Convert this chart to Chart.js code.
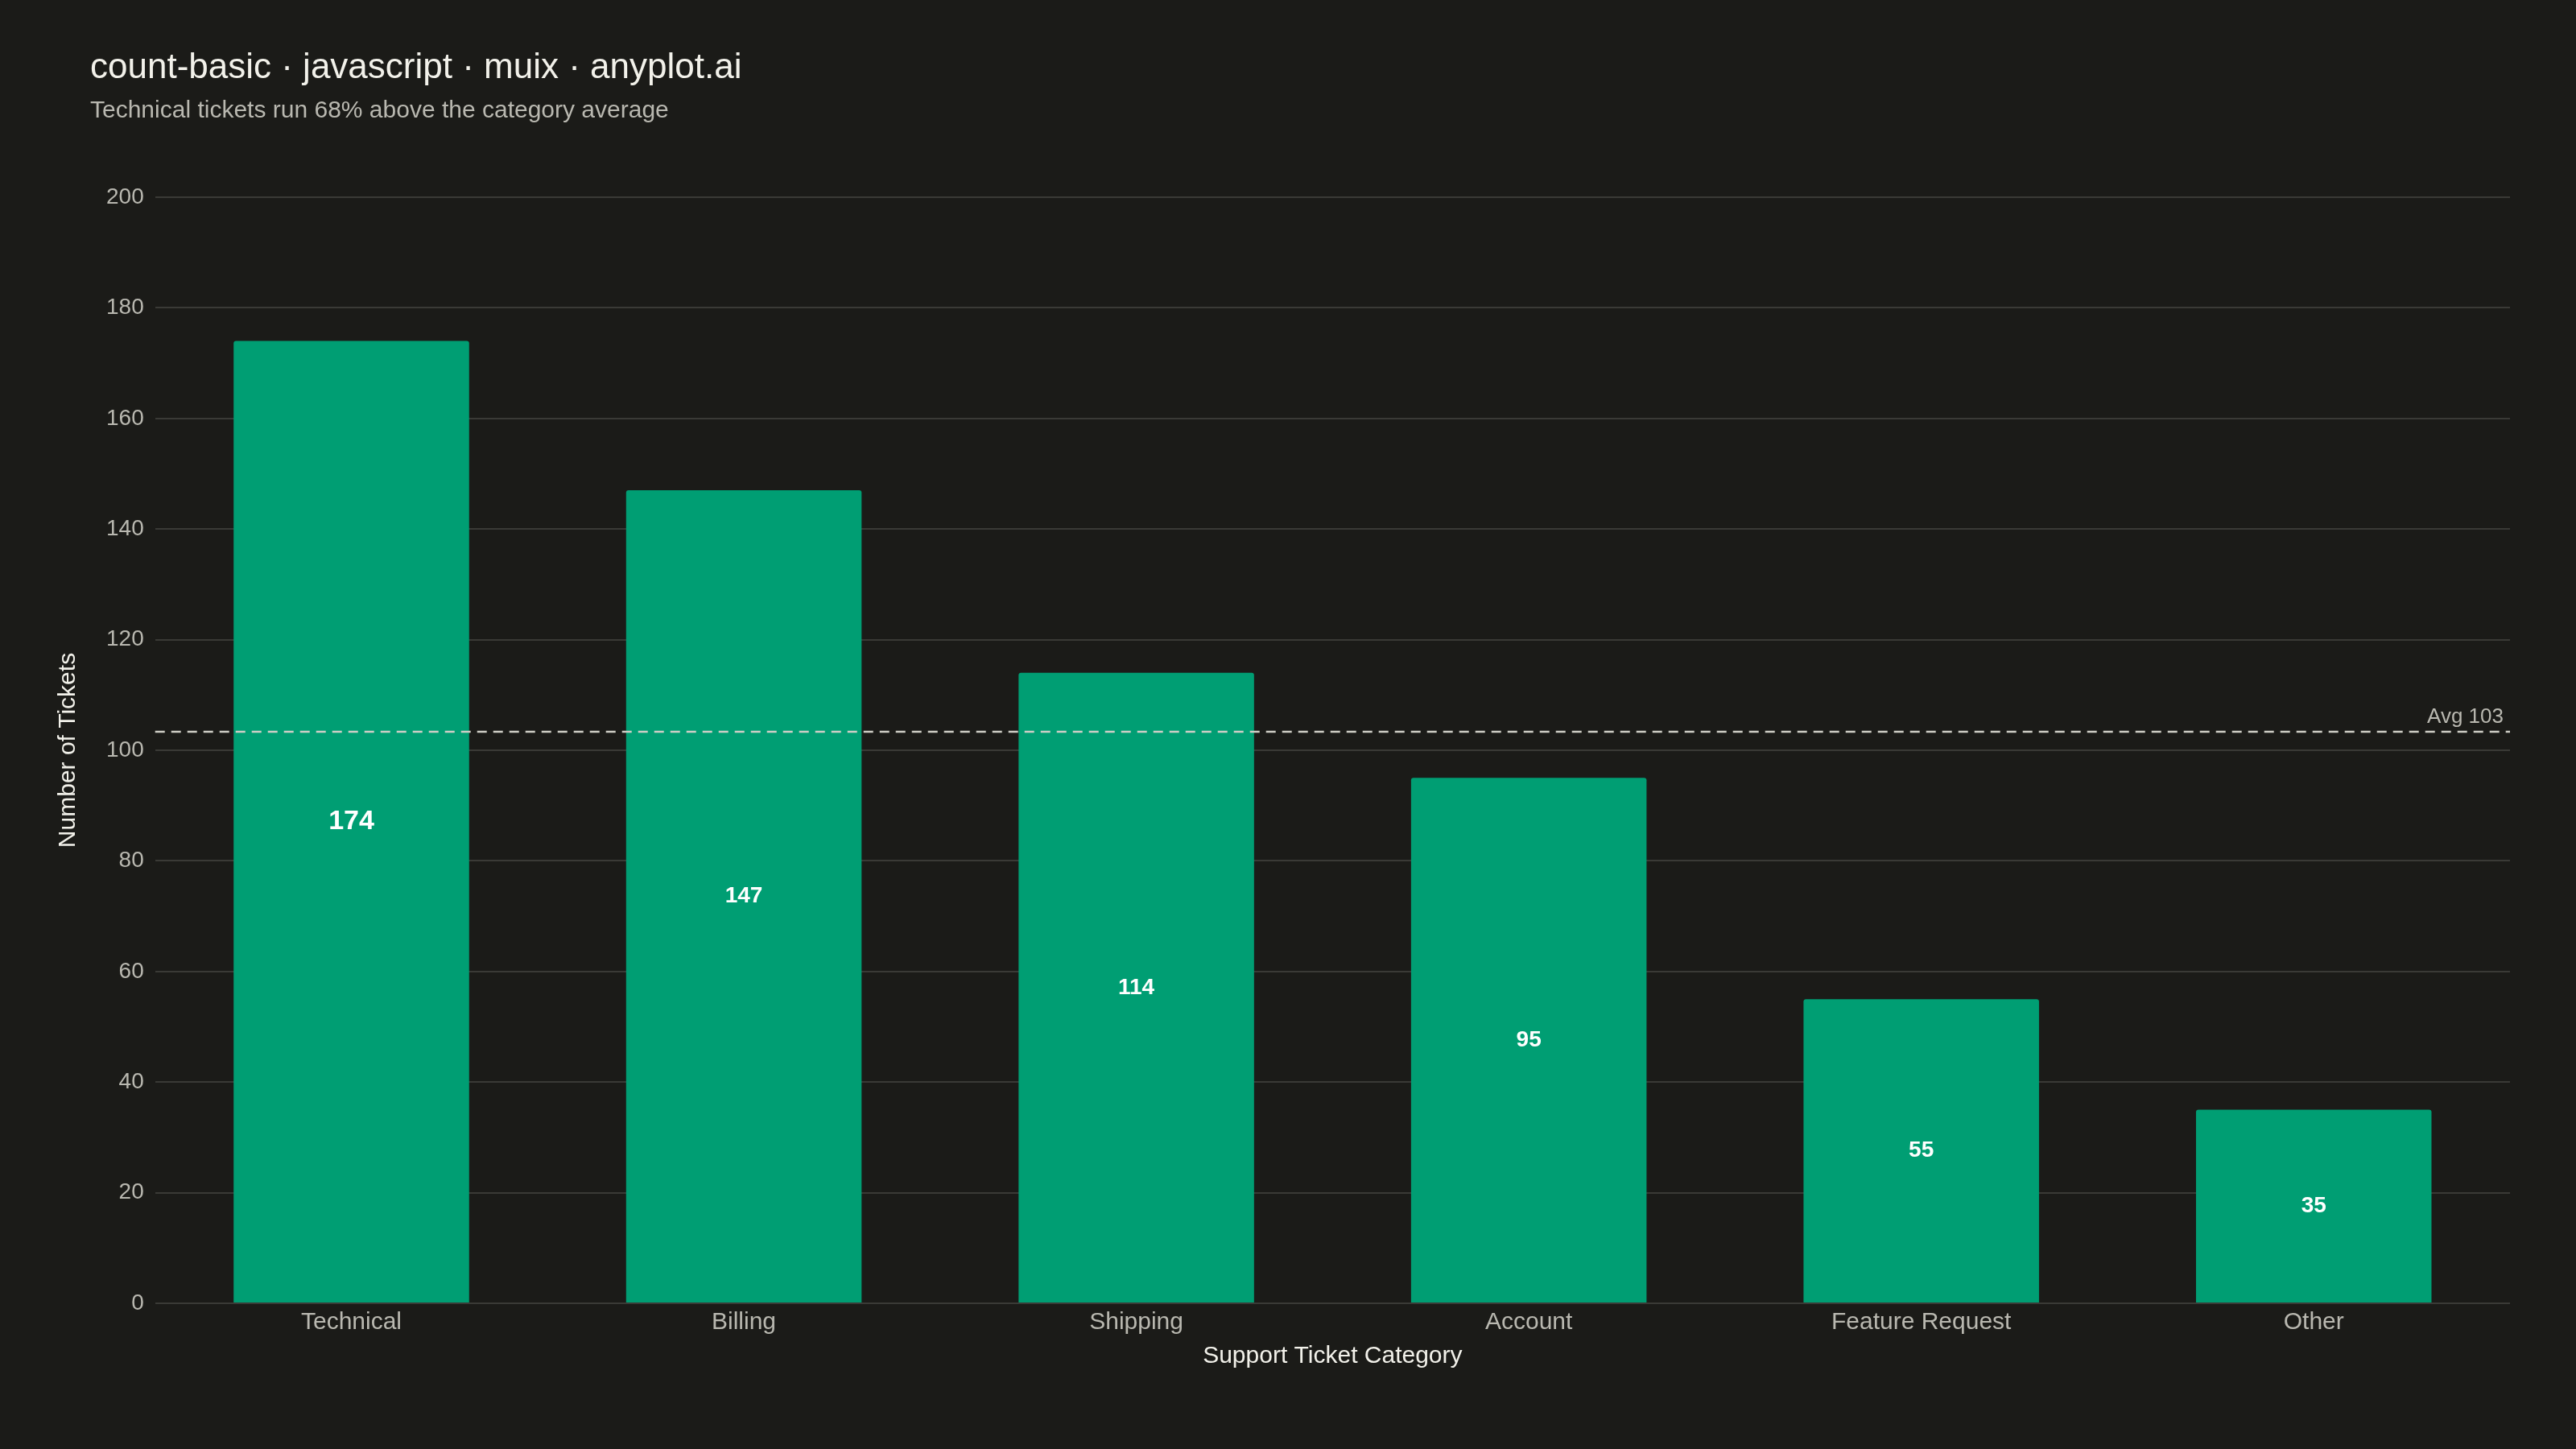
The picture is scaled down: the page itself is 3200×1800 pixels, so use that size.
<!DOCTYPE html>
<html>
<head>
<meta charset="utf-8">
<script src="https://cdn.jsdelivr.net/npm/chart.js@4/dist/chart.umd.min.js"></script>
<style>
  html, body { margin: 0; padding: 0; background: #1b1b18; }
  #wrap { width: 3200px; height: 1800px; }
</style>
</head>
<body>
<div id="wrap"><canvas id="chart"></canvas></div>
<script>
const categories = ["Technical", "Billing", "Shipping", "Account", "Feature Request", "Other"];
const ticketCounts = [174, 147, 114, 95, 55, 35];

const titleText = "count-basic · javascript · muix · anyplot.ai";
const subtitleText = "Technical tickets run 68% above the category average";

const FONT = '"Liberation Sans", Arial, Helvetica, sans-serif';
const average = ticketCounts.reduce((a, b) => a + b, 0) / ticketCounts.length;

// title + subtitle, drawn in the top-left corner
const headerPlugin = {
  id: "header",
  afterDraw(chart) {
    const ctx = chart.ctx;
    ctx.save();
    ctx.textAlign = "left";
    ctx.textBaseline = "alphabetic";
    ctx.fillStyle = "#f2f1ea";
    ctx.font = "44px " + FONT;
    ctx.fillText(titleText, 112, 97);
    ctx.fillStyle = "#b9b8b0";
    ctx.font = "30px " + FONT;
    ctx.fillText(subtitleText, 112, 146);
    ctx.restore();
  }
};

// dashed average line with its label
const averagePlugin = {
  id: "averageLine",
  afterDatasetsDraw(chart) {
    const { ctx, chartArea } = chart;
    const y = chart.scales.y.getPixelForValue(average);
    ctx.save();
    ctx.strokeStyle = "#cfcec6";
    ctx.lineWidth = 2.5;
    ctx.setLineDash([12, 8]);
    ctx.beginPath();
    ctx.moveTo(chartArea.left, y);
    ctx.lineTo(chartArea.right, y);
    ctx.stroke();
    ctx.setLineDash([]);
    ctx.fillStyle = "#b9b8b0";
    ctx.font = "26px " + FONT;
    ctx.textAlign = "right";
    ctx.textBaseline = "bottom";
    ctx.fillText("Avg " + Math.round(average), chartArea.right - 8, y - 5);
    ctx.restore();
  }
};

// value labels in the middle of each bar
const barLabelPlugin = {
  id: "barLabels",
  afterDatasetsDraw(chart) {
    const ctx = chart.ctx;
    const meta = chart.getDatasetMeta(0);
    const top = Math.max(...ticketCounts);
    ctx.save();
    ctx.fillStyle = "#ffffff";
    ctx.textAlign = "center";
    ctx.textBaseline = "middle";
    meta.data.forEach((bar, i) => {
      const v = ticketCounts[i];
      ctx.font = "bold " + (v === top ? 34 : 28) + "px " + FONT;
      ctx.fillText(String(v), bar.x, (bar.y + bar.base) / 2);
    });
    ctx.restore();
  }
};

new Chart(document.getElementById("chart"), {
  type: "bar",
  data: {
    labels: categories,
    datasets: [{
      label: "Tickets",
      data: ticketCounts,
      backgroundColor: "#009e73",
      borderWidth: 0,
      borderRadius: { topLeft: 3, topRight: 3 },
      categoryPercentage: 0.6,
      barPercentage: 1.0
    }]
  },
  options: {
    responsive: true,
    maintainAspectRatio: false,
    devicePixelRatio: 1,
    animation: false,
    layout: { padding: { top: 245, left: 67, right: 82, bottom: 97 } },
    plugins: {
      legend: { display: false },
      tooltip: { enabled: false },
      title: { display: false }
    },
    scales: {
      x: {
        grid: { display: false, drawTicks: false },
        border: { display: false },
        ticks: { color: "#b9b8b0", font: { family: FONT, size: 30, lineHeight: 1.0 }, padding: 9 },
        title: {
          display: true,
          text: "Support Ticket Category",
          color: "#f2f1ea",
          font: { family: FONT, size: 30 },
          padding: { top: 0, bottom: 0 }
        }
      },
      y: {
        min: 0,
        max: 200,
        grid: { color: "#3a3a36", lineWidth: 2, drawTicks: false },
        border: { display: false },
        ticks: {
          stepSize: 20,
          color: "#b9b8b0",
          font: { family: FONT, size: 28 },
          padding: 14
        },
        title: {
          display: true,
          text: "Number of Tickets",
          color: "#f2f1ea",
          font: { family: FONT, size: 30 },
          padding: { top: 0, bottom: 15 }
        }
      }
    }
  },
  plugins: [headerPlugin, averagePlugin, barLabelPlugin]
});
</script>
</body>
</html>
